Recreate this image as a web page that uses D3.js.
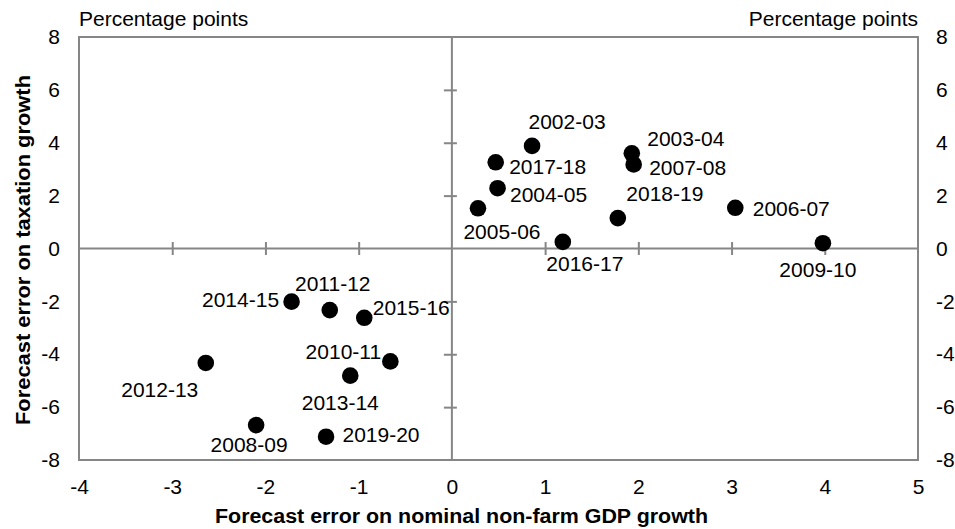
<!DOCTYPE html>
<html><head><meta charset="utf-8">
<script src="https://cdn.jsdelivr.net/npm/d3@7"></script>
<style>
body{margin:0;background:#fff;}
svg text{font-family:"Liberation Sans",Arial,sans-serif;fill:#000;}
</style></head>
<body><svg id="c" width="955" height="529"></svg>
<script>
const years = ["2002-03","2003-04","2004-05","2005-06","2006-07","2007-08","2008-09","2009-10","2010-11","2011-12","2012-13","2013-14","2014-15","2015-16","2016-17","2017-18","2018-19","2019-20"];
const gdpError = [0.86,1.93,0.49,0.28,3.04,1.95,-2.10,3.98,-0.66,-1.31,-2.64,-1.09,-1.72,-0.94,1.19,0.47,1.78,-1.35];
const taxError = [3.88,3.60,2.28,1.52,1.54,3.18,-6.68,0.20,-4.27,-2.33,-4.33,-4.81,-2.01,-2.62,0.25,3.26,1.15,-7.12];
const xTicks = [-4,-3,-2,-1,0,1,2,3,4,5];
const yTicks = [-8,-6,-4,-2,0,2,4,6,8];
const xTitle = "Forecast error on nominal non-farm GDP growth";
const yTitle = "Forecast error on taxation growth";
const unitLabel = "Percentage points";

// layout: label offsets (px) from point centre to text centre
const labelOffset = {
 "2002-03":[35,-24],"2003-04":[54,-15],"2004-05":[51,6],"2005-06":[24,23],
 "2006-07":[56,1],"2007-08":[54,3],"2008-09":[-7,19],"2009-10":[-5,26],
 "2010-11":[-47,-10],"2011-12":[3,-27],"2012-13":[-46,27],"2013-14":[-10,27],
 "2014-15":[-51,-2],"2015-16":[47,-10],"2016-17":[22,22],"2017-18":[52,4],
 "2018-19":[47,-25],"2019-20":[55,-2]
};

const svg = d3.select("#c");
const L=79,R=918,T=37,B=460;
const x = d3.scaleLinear().domain([-4,5]).range([L,R]);
const y = d3.scaleLinear().domain([-8,8]).range([B,T]);
const grey="#868686";
const fs=21;
const fmt = d => String(d);

// box
svg.append("rect").attr("x",L).attr("y",T).attr("width",R-L).attr("height",B-T)
 .attr("fill","none").attr("stroke",grey).attr("stroke-width",2);

// zero axes with crossing ticks
const ax0 = svg.append("g").attr("transform",`translate(0,${y(0)})`);
const xt = xTicks.filter(d=>d!==0 && d!==-4 && d!==5);
ax0.append("g").call(d3.axisBottom(x).tickValues(xt).tickSize(6.5).tickFormat(""));
ax0.append("g").call(d3.axisTop(x).tickValues(xt).tickSize(6.5).tickFormat(""));
const ay0 = svg.append("g").attr("transform",`translate(${x(0)},0)`);
const yt = yTicks.filter(d=>d!==0 && d!==-8 && d!==8);
ay0.append("g").call(d3.axisLeft(y).tickValues(yt).tickSize(8).tickFormat(""));
ay0.append("g").call(d3.axisRight(y).tickValues(yt).tickSize(5).tickFormat(""));
svg.selectAll("g .domain").remove();
svg.selectAll("g .tick line").attr("stroke",grey).attr("stroke-width",2);
svg.append("line").attr("x1",L).attr("x2",R).attr("y1",y(0)).attr("y2",y(0)).attr("stroke",grey).attr("stroke-width",2);
svg.append("line").attr("x1",x(0)).attr("x2",x(0)).attr("y1",T).attr("y2",B).attr("stroke",grey).attr("stroke-width",2);

// tick labels via axes
function styleLabels(g){g.select(".domain").remove();g.selectAll(".tick line").remove();
 g.selectAll("text").style("font-size",fs+"px").attr("fill","#000");}
svg.append("g").attr("transform",`translate(0,${B})`)
 .call(d3.axisBottom(x).tickValues(xTicks).tickSize(0).tickPadding(19).tickFormat(fmt))
 .call(styleLabels);
svg.append("g").attr("transform",`translate(${L},0)`)
 .call(d3.axisLeft(y).tickValues(yTicks).tickSize(0).tickPadding(19).tickFormat(fmt))
 .call(styleLabels);
svg.append("g").attr("transform",`translate(${R},0)`)
 .call(d3.axisRight(y).tickValues(yTicks).tickSize(0).tickPadding(18).tickFormat(fmt))
 .call(styleLabels);
svg.selectAll("g text").attr("font-family",null);

// unit labels
svg.append("text").attr("x",L).attr("y",26).style("font-size",fs+"px").text(unitLabel);
svg.append("text").attr("x",R).attr("y",26).attr("text-anchor","end").style("font-size",fs+"px").text(unitLabel);

// titles
svg.append("text").attr("x",461.5).attr("y",523).attr("text-anchor","middle")
 .style("font-size","20px").style("font-weight","bold")
 .attr("textLength",493).attr("lengthAdjust","spacingAndGlyphs").text(xTitle);
svg.append("text").attr("transform",`translate(30,250) rotate(-90)`).attr("text-anchor","middle")
 .style("font-size","20px").style("font-weight","bold")
 .attr("textLength",350).attr("lengthAdjust","spacingAndGlyphs").text(yTitle);

// points
const pts = years.map((yr,i)=>({yr,gx:gdpError[i],ty:taxError[i]}));
svg.append("g").selectAll("circle").data(pts).join("circle")
 .attr("cx",d=>x(d.gx)).attr("cy",d=>y(d.ty)).attr("r",8.3).attr("fill","#000");
svg.append("g").selectAll("text").data(pts).join("text")
 .attr("x",d=>x(d.gx)+labelOffset[d.yr][0])
 .attr("y",d=>y(d.ty)+labelOffset[d.yr][1]+7.5)
 .attr("text-anchor","middle").style("font-size",fs+"px").text(d=>d.yr);
</script></body></html>
